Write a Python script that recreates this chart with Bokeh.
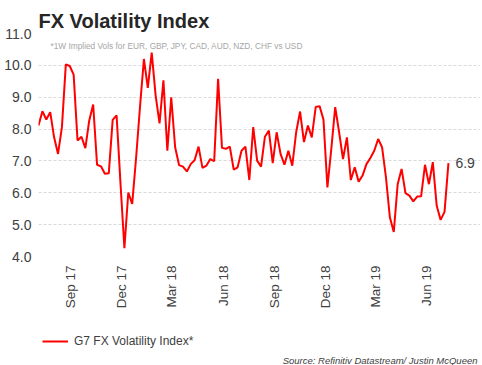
import pandas as pd
from bokeh.plotting import figure
from bokeh.layouts import column
from bokeh.models import (ColumnDataSource, FixedTicker, DatetimeTickFormatter, PrintfTickFormatter,
                          Legend, LegendItem, Label, Range1d)
from bokeh.embed import file_html
from bokeh.resources import INLINE

# ---- data ----
start_date = "2017-07-05"
vol = [8.11, 8.56, 8.30, 8.53, 7.74, 7.22, 8.06, 10.03, 9.98, 9.71,
       7.64, 7.76, 7.40, 8.27, 8.77, 6.88, 6.83, 6.60, 6.61, 8.29,
       8.43, 6.30, 4.26, 6.01, 5.65, 7.10, 8.70, 10.20, 9.29, 10.40,
       9.06, 8.18, 9.53, 7.32, 9.00, 7.43, 6.87, 6.82, 6.67, 6.90,
       7.03, 7.45, 6.78, 6.85, 7.06, 6.99, 9.58, 7.41, 7.38, 7.45,
       6.73, 6.80, 7.32, 7.45, 6.40, 8.06, 7.01, 6.82, 7.76, 7.95,
       6.93, 7.90, 7.22, 6.88, 7.32, 6.85, 7.90, 8.55, 7.59, 8.11,
       7.74, 8.69, 8.72, 8.29, 6.17, 7.38, 8.69, 7.90, 7.06, 7.74,
       6.40, 6.80, 6.35, 6.54, 6.90, 7.09, 7.32, 7.69, 7.43, 6.48,
       5.23, 4.77, 6.27, 6.75, 5.99, 5.91, 5.73, 5.88, 5.89, 6.88,
       6.27, 6.96, 5.59, 5.15, 5.40, 6.93]
dates = pd.date_range(start_date, periods=len(vol), freq="7D")
x_tick_dates = ["2017-09-01", "2017-12-01", "2018-03-01", "2018-06-01",
                "2018-09-01", "2018-12-01", "2019-03-01", "2019-06-01"]
y_ticks = [4.0, 5.0, 6.0, 7.0, 8.0, 9.0, 10.0, 11.0]
series_name = "G7 FX Volatility Index*"
title_text = "FX Volatility Index"
subtitle_text = "*1W Implied Vols for EUR, GBP, JPY, CAD, AUD, NZD, CHF vs USD"
source_text = "Source: Refinitiv Datastream/ Justin McQueen"

src = ColumnDataSource(dict(date=dates, vol=vol))
x_end = dates[-1] + pd.Timedelta(days=57.5)   # room on the right for the end label

p = figure(width=482, height=320, output_backend="svg", toolbar_location=None,
           x_axis_type="datetime",
           x_range=Range1d(dates[0], x_end), y_range=Range1d(4.0, 11.0),
           min_border_left=38, min_border_right=2, min_border_top=33, min_border_bottom=64)
p.outline_line_color = None
p.background_fill_color = "white"
p.border_fill_color = "white"

p.title.text = title_text
p.title.text_font = "Liberation Sans"
p.title.text_font_size = "20px"
p.title.text_font_style = "bold"
p.title.text_color = "#262626"
p.title.align = "left"
p.title.vertical_align = "top"
p.title.standoff = 0

r = p.line("date", "vol", source=src, color="#ff0000", line_width=2)

# axes
ticks_ms = [pd.Timestamp(d).value // 10**6 for d in x_tick_dates]
p.xaxis.ticker = FixedTicker(ticks=ticks_ms)
fmt = "%b %y"
p.xaxis.formatter = DatetimeTickFormatter(days=fmt, months=fmt, years=fmt, hours=fmt,
                                          minutes=fmt, seconds=fmt, milliseconds=fmt,
                                          microseconds=fmt, minsec=fmt, hourmin=fmt)
p.xaxis.major_label_orientation = 1.5707963
p.yaxis.ticker = FixedTicker(ticks=y_ticks)
p.yaxis.formatter = PrintfTickFormatter(format="%.1f")
for ax in (p.xaxis, p.yaxis):
    ax.axis_line_color = None
    ax.major_tick_line_color = None
    ax.minor_tick_line_color = None
    ax.major_tick_in = 0
    ax.major_tick_out = 0
    ax.minor_tick_in = 0
    ax.minor_tick_out = 0
    ax.major_label_text_font = "Liberation Sans"
    ax.major_label_text_color = "#404040"
p.xaxis.major_label_text_font_size = "13.5px"
p.yaxis.major_label_text_font_size = "14px"
p.xaxis.major_label_standoff = 9
p.yaxis.major_label_standoff = 7

p.xgrid.grid_line_color = None
p.ygrid.ticker = FixedTicker(ticks=y_ticks)
p.ygrid.grid_line_color = "#d9d9d9"
p.ygrid.grid_line_dash = "3 2"
p.ygrid.grid_line_width = 1
p.ygrid.bounds = (dates[0].value // 10**6, dates[-1].value // 10**6)

# last value label
last_label = Label(x=dates[-1], y=vol[-1], text="%.1f" % vol[-1], x_offset=7,
                   text_baseline="middle", text_font="Liberation Sans",
                   text_font_size="14px", text_color="#404040")
p.add_layout(last_label)

sub = Label(x=12, y=211, x_units="screen", y_units="screen", text=subtitle_text,
            text_baseline="middle", text_font="Liberation Sans", text_font_size="8.3px",
            text_color="#a6a6a6")
p.add_layout(sub)

# ---- footer: legend + source (frame is aligned with the chart's frame) ----
p2 = figure(width=482, height=45, output_backend="svg", toolbar_location=None,
            x_range=Range1d(0, 1), y_range=Range1d(0, 1),
            x_axis_location=None, y_axis_location=None,
            min_border_left=38, min_border_right=2, min_border_top=0, min_border_bottom=0)
p2.outline_line_color = None
p2.grid.visible = False
# legend-only renderer (no visible data)
r2 = p2.line(x=[float("nan")], y=[float("nan")], color="#ff0000", line_width=2)
legend = Legend(items=[LegendItem(label=series_name, renderers=[r2])],
                location=(4, 17), padding=0, margin=0, spacing=0,
                glyph_width=26, glyph_height=14, label_height=14, label_standoff=6,
                label_text_font="Liberation Sans", label_text_font_size="12px",
                label_text_color="#404040", border_line_color=None,
                background_fill_alpha=0)
p2.add_layout(legend)
srcl = Label(x=439, y=5, x_units="screen", y_units="screen", text=source_text,
             text_align="right", text_baseline="middle", text_font="Liberation Sans",
             text_font_size="9.5px", text_font_style="italic", text_color="#404040")
p2.add_layout(srcl)

layout = column(p, p2, spacing=0)
open("out.html", "w").write(file_html(layout, INLINE))
